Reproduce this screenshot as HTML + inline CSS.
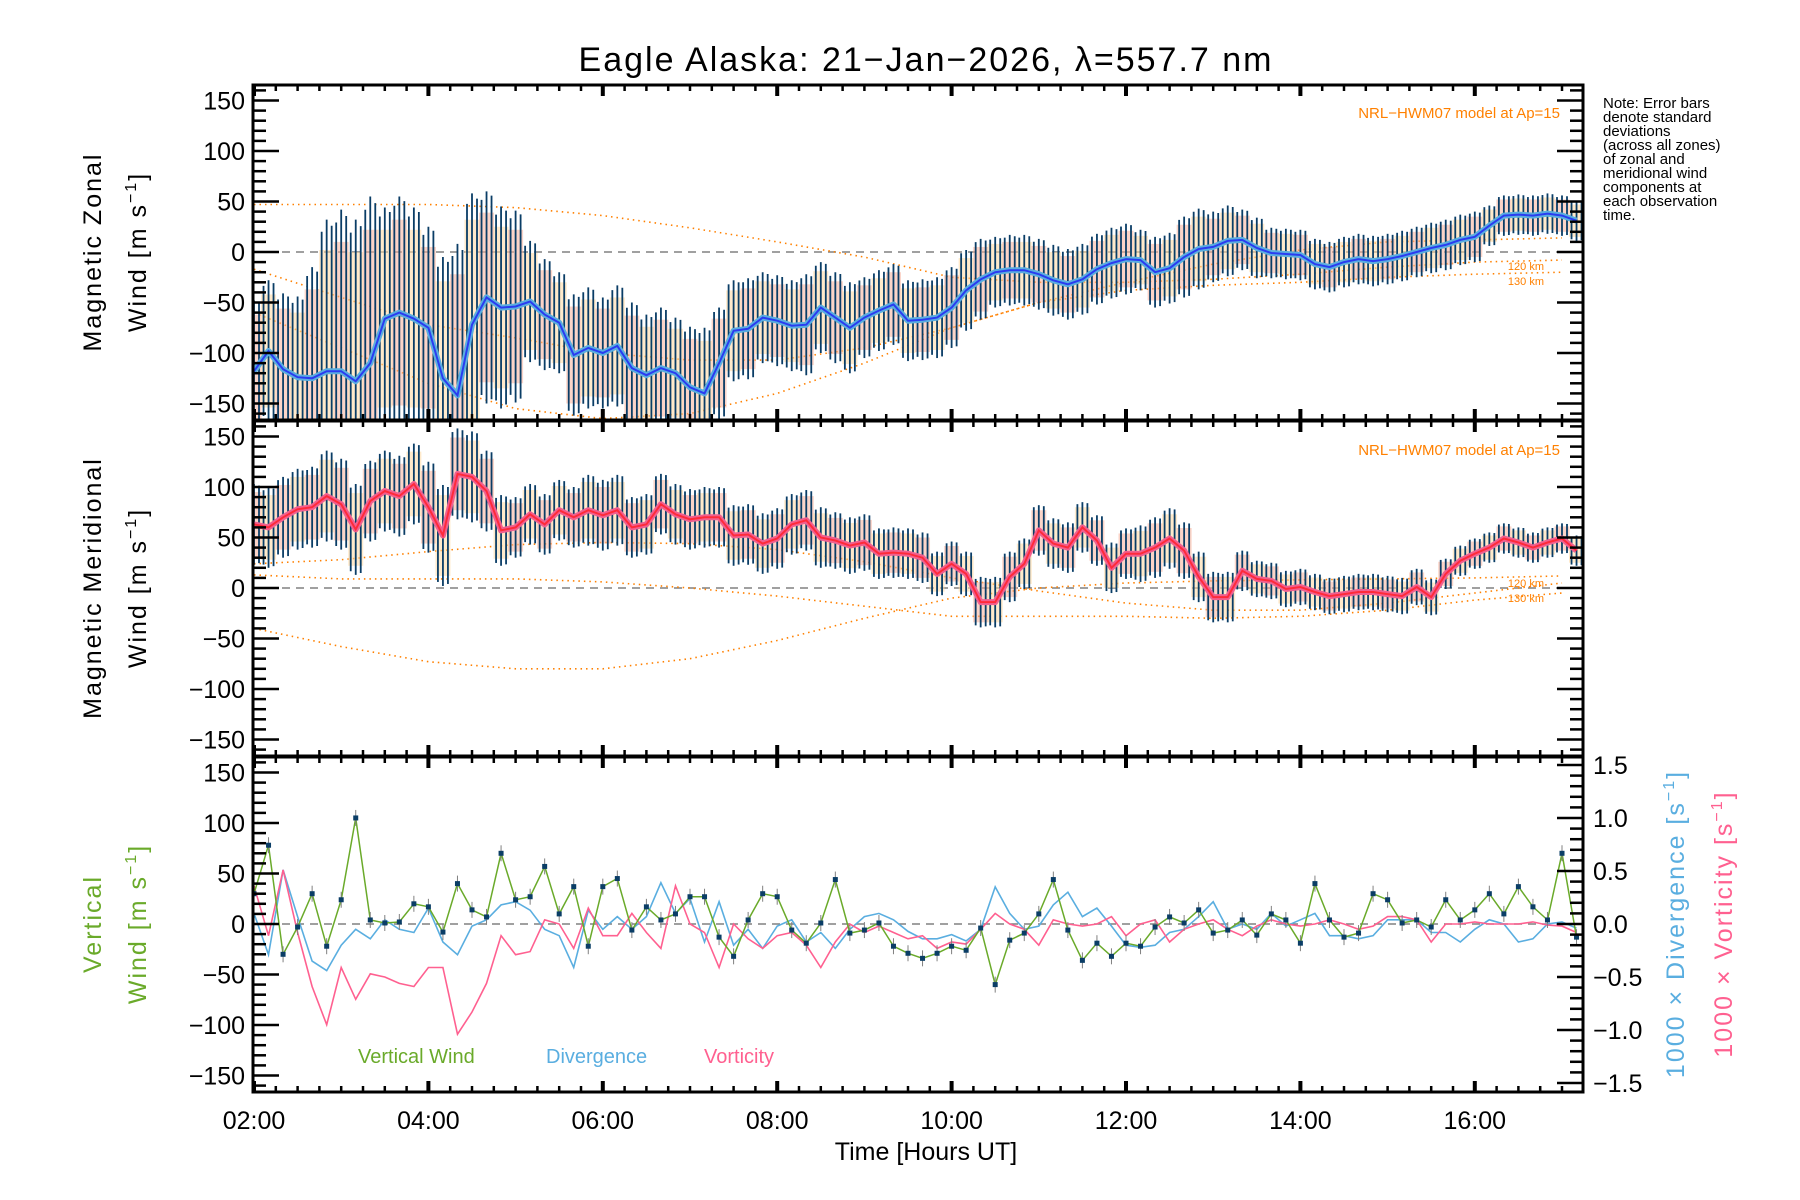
<!DOCTYPE html>
<html><head><meta charset="utf-8"><title>Eagle Alaska winds</title>
<style>
html,body{margin:0;padding:0;background:#fff;}
svg{display:block;font-family:"Liberation Sans",sans-serif;}
</style></head>
<body>
<svg id="chart" width="1800" height="1200" viewBox="0 0 1800 1200" xmlns="http://www.w3.org/2000/svg">
<defs>
<clipPath id="c0"><rect x="254" y="86" width="1328" height="333"/></clipPath>
<clipPath id="c1"><rect x="254" y="422" width="1328" height="333"/></clipPath>
<clipPath id="c2"><rect x="254" y="758" width="1328" height="333"/></clipPath>
</defs>
<text x="926" y="71" font-size="34" letter-spacing="2" text-anchor="middle">Eagle Alaska: 21−Jan−2026, λ=557.7 nm</text>
<g id="layers"></g>
<g font-size="15">
<text x="1603" y="108">Note: Error bars</text>
<text x="1603" y="122">denote standard</text>
<text x="1603" y="136">deviations</text>
<text x="1603" y="150">(across all zones)</text>
<text x="1603" y="164">of zonal and</text>
<text x="1603" y="178">meridional wind</text>
<text x="1603" y="192">components at</text>
<text x="1603" y="206">each observation</text>
<text x="1603" y="220">time.</text>
</g>
<text x="1560" y="118" font-size="15" fill="#ff8000" text-anchor="end">NRL−HWM07 model at Ap=15</text>
<text x="1560" y="455" font-size="15" fill="#ff8000" text-anchor="end">NRL−HWM07 model at Ap=15</text>
<g font-size="11" fill="#ff8000" text-anchor="end">
<text x="1544" y="270">120 km</text>
<text x="1544" y="285">130 km</text>
<text x="1544" y="587">120 km</text>
<text x="1544" y="602">130 km</text>
</g>
<g font-size="25" text-anchor="middle" letter-spacing="2">
<text transform="translate(101,252) rotate(-90)">Magnetic Zonal</text>
<text transform="translate(146,252) rotate(-90)">Wind [m s<tspan font-size="16" dy="-10">−1</tspan><tspan dy="10">]</tspan></text>
<text transform="translate(101,588) rotate(-90)">Magnetic Meridional</text>
<text transform="translate(146,588) rotate(-90)">Wind [m s<tspan font-size="16" dy="-10">−1</tspan><tspan dy="10">]</tspan></text>
<text transform="translate(101,924) rotate(-90)" fill="#6aaa2a">Vertical</text>
<text transform="translate(146,924) rotate(-90)" fill="#6aaa2a">Wind [m s<tspan font-size="16" dy="-10">−1</tspan><tspan dy="10">]</tspan></text>
<text transform="translate(1684,924) rotate(-90)" fill="#5aaee0">1000 × Divergence [s<tspan font-size="16" dy="-10">−1</tspan><tspan dy="10">]</tspan></text>
<text transform="translate(1732,924) rotate(-90)" fill="#ff6090">1000 × Vorticity [s<tspan font-size="16" dy="-10">−1</tspan><tspan dy="10">]</tspan></text>
</g>
<text x="926" y="1160" font-size="25" text-anchor="middle">Time [Hours UT]</text>
<g font-size="20">
<text x="358" y="1063" fill="#6aaa2a">Vertical Wind</text>
<text x="546" y="1063" fill="#5aaee0">Divergence</text>
<text x="704" y="1063" fill="#ff6090">Vorticity</text>
</g>
</svg>
<script>
// ---------- data (10-minute samples from 02:00 UT) ----------
const startHour = 2;
const stepMinutes = 10;
const zonalMean = [-118,-98,-116,-124,-125,-118,-118,-128,-110,-66,-60,-66,-75,-125,-142,-72,-45,-55,-54,-49,-62,-70,-102,-95,-100,-93,-115,-122,-115,-120,-134,-140,-110,-78,-76,-65,-68,-73,-72,-55,-65,-75,-65,-58,-52,-68,-67,-65,-55,-38,-27,-20,-18,-18,-22,-28,-32,-27,-17,-11,-7,-8,-20,-16,-5,3,5,11,12,4,-1,-2,-3,-12,-15,-10,-7,-9,-7,-4,0,4,7,12,15,26,36,37,36,38,36,31];
const zonalSigma = [70,70,75,80,110,150,160,160,165,110,115,110,100,120,150,130,105,100,95,60,55,50,60,60,55,60,65,60,60,55,60,65,55,50,50,45,45,45,50,45,45,45,40,40,40,40,40,40,40,40,40,35,35,35,35,35,35,35,35,35,35,30,35,35,40,40,35,35,30,30,25,25,25,25,25,25,25,25,25,25,25,25,25,25,25,20,20,20,20,20,20,20];
const meridMean = [63,60,70,78,80,91,83,58,86,96,91,103,80,52,113,110,96,57,60,73,63,77,70,77,72,77,60,63,83,73,68,70,70,52,53,44,49,63,67,50,47,42,45,34,35,34,30,14,24,14,-14,-14,11,24,57,44,40,60,47,20,34,34,40,49,37,11,-9,-9,17,9,7,-1,1,-4,-8,-6,-4,-4,-6,-8,1,-9,14,27,34,40,49,45,40,45,49,37];
const meridSigma = [40,40,40,40,40,45,45,45,40,40,40,40,45,50,45,45,40,35,30,30,30,30,30,35,35,35,30,30,30,30,30,30,30,30,30,30,30,30,30,30,28,28,28,25,25,25,25,22,22,22,25,25,25,25,25,25,25,25,25,25,25,28,30,30,28,25,25,25,20,18,18,18,18,18,18,18,18,18,18,18,18,18,15,15,15,15,15,15,15,15,15,15];
const verticalWind = [30,78,-30,-3,30,-22,24,105,4,1,2,20,17,-8,40,14,7,70,24,27,57,10,37,-22,37,45,-6,17,4,10,27,27,-13,-32,4,30,27,-6,-19,1,44,-9,-6,1,-22,-29,-34,-29,-22,-26,-4,-60,-16,-9,10,44,-6,-36,-19,-32,-19,-22,-3,7,1,14,-9,-6,4,-11,10,4,-19,40,4,-13,-9,30,24,1,4,-3,24,4,14,30,10,37,17,4,70,-13];
const divergence = [0.10,-0.29,0.51,0.07,-0.35,-0.44,-0.20,-0.05,-0.14,0.04,-0.05,-0.08,0.15,-0.17,-0.29,-0.02,0.04,0.18,0.21,0.13,-0.05,-0.11,-0.41,0.13,-0.05,0.07,-0.05,0.07,0.39,0.10,0.24,-0.17,0.21,-0.20,-0.05,-0.23,-0.02,0.04,-0.17,-0.08,-0.23,-0.05,0.07,0.10,0.04,-0.07,-0.14,-0.14,-0.10,-0.16,-0.05,0.35,0.10,-0.05,-0.02,0.18,0.30,0.07,0.15,-0.02,-0.20,-0.22,-0.20,-0.08,-0.05,0.07,0.21,-0.05,0.00,-0.05,0.10,-0.02,0.04,0.10,-0.11,-0.11,-0.14,-0.11,0.04,0.04,0.04,-0.08,-0.08,-0.17,-0.05,0.04,0.00,-0.17,-0.14,0.00,0.02,-0.04];
const vorticity = [0.36,-0.11,0.51,-0.08,-0.59,-0.95,-0.41,-0.71,-0.47,-0.50,-0.56,-0.59,-0.41,-0.41,-1.04,-0.83,-0.56,-0.11,-0.29,-0.26,0.04,0.00,-0.23,0.15,-0.11,-0.11,0.10,-0.08,-0.23,0.36,0.00,-0.08,-0.41,0.00,-0.14,-0.23,-0.11,-0.08,-0.20,-0.41,-0.17,0.00,-0.08,-0.02,-0.08,-0.14,-0.11,-0.23,-0.17,-0.19,-0.05,0.10,0.00,-0.05,-0.20,0.04,0.00,-0.02,0.00,0.07,-0.11,0.00,0.04,-0.17,-0.05,0.00,0.04,-0.05,-0.11,-0.02,0.04,0.00,-0.02,0.00,0.04,0.00,-0.05,-0.02,0.07,0.07,0.04,-0.17,0.00,0.00,0.02,0.00,0.00,0.00,0.02,-0.01,-0.02,-0.08];
// HWM07 model curves (hourly 02..17 UT)
const modelHours = [2,3,4,5,6,7,8,9,10,11,12,13,14,15,16,17];
const zonalModelA = [47,47,47,44,36,24,10,-5,-25,-30,-30,-27,-22,-15,-10,-8];
const zonalModelB = [-17,-45,-72,-85,-100,-107,-107,-95,-75,-50,-30,-12,2,10,12,14];
const zonalModelC = [-60,-95,-130,-155,-165,-160,-140,-110,-75,-50,-38,-33,-30,-25,-22,-20];
const meridModelA = [24,28,36,43,45,44,38,26,10,-3,-15,-22,-22,-15,-5,5];
const meridModelB = [13,9,9,9,6,0,-8,-18,-28,-28,-28,-30,-28,-22,-12,-5];
const meridModelC = [-40,-58,-73,-80,-80,-70,-52,-30,-10,0,5,7,8,9,10,12];
const leftTicks = [150,100,50,0,-50,-100,-150];
const rightTicks = [1.5,1.0,0.5,0.0,-0.5,-1.0,-1.5];
const hourTickLabels = ["02:00","04:00","06:00","08:00","10:00","12:00","14:00","16:00"];

// ---------- axes ----------
const NS = "http://www.w3.org/2000/svg";
const X0 = 254, X1 = 1582, PXH = 87.2;
const panelTop = [86, 422, 758], panelBot = [419, 755, 1091], panelZero = [252, 588, 924];
const VS = 1.01, RS = 106;
function xT(h){ return X0 + (h - startHour) * PXH; }
function xK(k){ return xT(startHour + k * stepMinutes / 60); }
function yV(v, p){ return panelZero[p] - v * VS; }
function yR(d){ return panelZero[2] - d * RS; }
const layers = document.getElementById('layers');
function mk(tag, attrs, parent){
  const e = document.createElementNS(NS, tag);
  for (const a in attrs) e.setAttribute(a, attrs[a]);
  (parent || layers).appendChild(e);
  return e;
}
function fmtMinus(s){ return s.replace('-', '−'); }

for (let p = 0; p < 3; p++){
  const g = mk('g', {});
  
  
  const dg = mk('g', {'clip-path': 'url(#c' + p + ')'}, g);
  
  
  const z = mk('line', {x1: X0, x2: X1, y1: panelZero[p], y2: panelZero[p], stroke: '#808080', 'stroke-width': 1.5, 'stroke-dasharray': '8 6'}, dg);
  
  
  g.dg = dg;
  layers['p' + p] = g;
}

// ---------- model curves ----------
function drawModel(arr, p, name){
  const pts = arr.map((v, i) => xT(modelHours[i]).toFixed(1) + ',' + yV(v, p).toFixed(1)).join(' ');
  const pl = mk('polyline', {points: pts, fill: 'none', stroke: '#ff8000', 'stroke-width': 1.6, 'stroke-dasharray': '1.5 4'}, layers['p' + p].dg);
  
  
}
drawModel(zonalModelA, 0, 'hwm-zonal-a');
drawModel(zonalModelB, 0, 'hwm-zonal-b');
drawModel(zonalModelC, 0, 'hwm-zonal-c');
drawModel(meridModelA, 1, 'hwm-merid-a');
drawModel(meridModelB, 1, 'hwm-merid-b');
drawModel(meridModelC, 1, 'hwm-merid-c');

// ---------- error bars + mean ----------
function drawWind(mean, sigma, p, lineLight, lineDark, name){
  const dg = layers['p' + p].dg;
  mean.forEach((m, k) => {
    const x = xK(k), s = sigma[k];
    const band = mk('rect', {x: x - 7.5, y: yV(m + s * 0.8, p), width: 15, height: 2 * s * 0.8 * VS, fill: k % 2 ? '#ffd9a0' : '#f8b09a', opacity: 0.55}, dg);
    
    
  });
  mean.forEach((m, k) => {
    const x = xK(k), s = sigma[k];
    [-5, 0, 5].forEach((o, j) => {
      const f = [0.92, 1, 0.96][j];
      const b = mk('line', {x1: x + o, x2: x + o, y1: yV(m + s * f, p), y2: yV(m - s * f, p), stroke: '#0a3d66', 'stroke-width': 1.8}, dg);
      
      
    });
  });
  const pts = mean.map((m, k) => xK(k).toFixed(1) + ',' + yV(m, p).toFixed(1)).join(' ');
  const l1 = mk('polyline', {points: pts, fill: 'none', stroke: lineLight, 'stroke-width': 6, 'stroke-linejoin': 'round'}, dg);
  
  
  const l2 = mk('polyline', {points: pts, fill: 'none', stroke: lineDark, 'stroke-width': 2}, dg);
  
  
}
drawWind(zonalMean, zonalSigma, 0, '#5aaee0', '#2a3cf0', 'zonal');
drawWind(meridMean, meridSigma, 1, '#f06090', '#ff2a3a', 'meridional');

// ---------- panel 3 ----------
(function(){
  const dg = layers['p2'].dg;
  const dv = mk('polyline', {points: divergence.map((d, k) => xK(k).toFixed(1) + ',' + yR(d).toFixed(1)).join(' '), fill: 'none', stroke: '#5aaee0', 'stroke-width': 1.6}, dg);
  
  
  const vo = mk('polyline', {points: vorticity.map((d, k) => xK(k).toFixed(1) + ',' + yR(d).toFixed(1)).join(' '), fill: 'none', stroke: '#ff6090', 'stroke-width': 1.6}, dg);
  
  
  const vw = mk('polyline', {points: verticalWind.map((v, k) => xK(k).toFixed(1) + ',' + yV(v, 2).toFixed(1)).join(' '), fill: 'none', stroke: '#6aaa2a', 'stroke-width': 1.5}, dg);
  
  
  verticalWind.forEach((v, k) => {
    const x = xK(k), y = yV(v, 2);
    const eb = mk('line', {x1: x, x2: x, y1: y - 8, y2: y + 8, stroke: '#808080', 'stroke-width': 1}, dg);
    
    
    const s = mk('rect', {x: x - 2.5, y: y - 2.5, width: 5, height: 5, fill: '#0a3d66'}, dg);
    
    
  });
})();

// ---------- frames & ticks ----------
for (let p = 0; p < 3; p++){
  const g = layers['p' + p];
  const T = panelTop[p] - 1, B = panelBot[p] + 1;
  const fr = mk('rect', {x: X0 - 1, y: T, width: X1 - X0 + 2, height: B - T, fill: 'none', stroke: '#000', 'stroke-width': 3}, g);
  
  
  for (let v = -160; v <= 160; v += 10){
    const y = yV(v, p);
    const major = v % 50 === 0;
    const len = major ? 25 : 12;
    const tl = mk('line', {x1: X0, x2: X0 + len, y1: y, y2: y, stroke: '#000', 'stroke-width': 2.5}, g);
    
    
    if (p < 2){
      const tr = mk('line', {x1: X1 - len, x2: X1, y1: y, y2: y, stroke: '#000', 'stroke-width': 2.5}, g);
      
      
    }
  }
  leftTicks.forEach(v => {
    const t = mk('text', {x: 245, y: yV(v, p) + 9, 'font-size': 25, 'text-anchor': 'end'}, g);
    t.textContent = fmtMinus(String(v));
    
    
  });
  for (let m = 0; m <= 15.25 * 60; m += 15){
    const x = xT(startHour + m / 60);
    if (x > X1) break;
    const major = m % 120 === 0;
    const len = major ? 11 : 6;
    const w = major ? 4 : 2.5;
    const a = mk('line', {x1: x, x2: x, y1: T, y2: T + len, stroke: '#000', 'stroke-width': w}, g);
    
    
    const b = mk('line', {x1: x, x2: x, y1: B - len, y2: B, stroke: '#000', 'stroke-width': w}, g);
    
    
  }
}
for (let i = -15; i <= 15; i++){
  const d = i / 10;
  const major = i % 5 === 0;
  const len = major ? 25 : 12;
  const t = mk('line', {x1: X1 - len, x2: X1, y1: yR(d), y2: yR(d), stroke: '#000', 'stroke-width': 2.5}, layers['p2']);
  
  
}
rightTicks.forEach(d => {
  const t = mk('text', {x: 1593, y: yR(d) + 9, 'font-size': 25}, layers['p2']);
  t.textContent = fmtMinus(d.toFixed(1));
  
  
});
hourTickLabels.forEach((lab, i) => {
  const t = mk('text', {x: xT(startHour + 2 * i), y: 1129, 'font-size': 25, 'text-anchor': 'middle'});
  t.textContent = lab;
  
  
});
</script>
</body></html>
